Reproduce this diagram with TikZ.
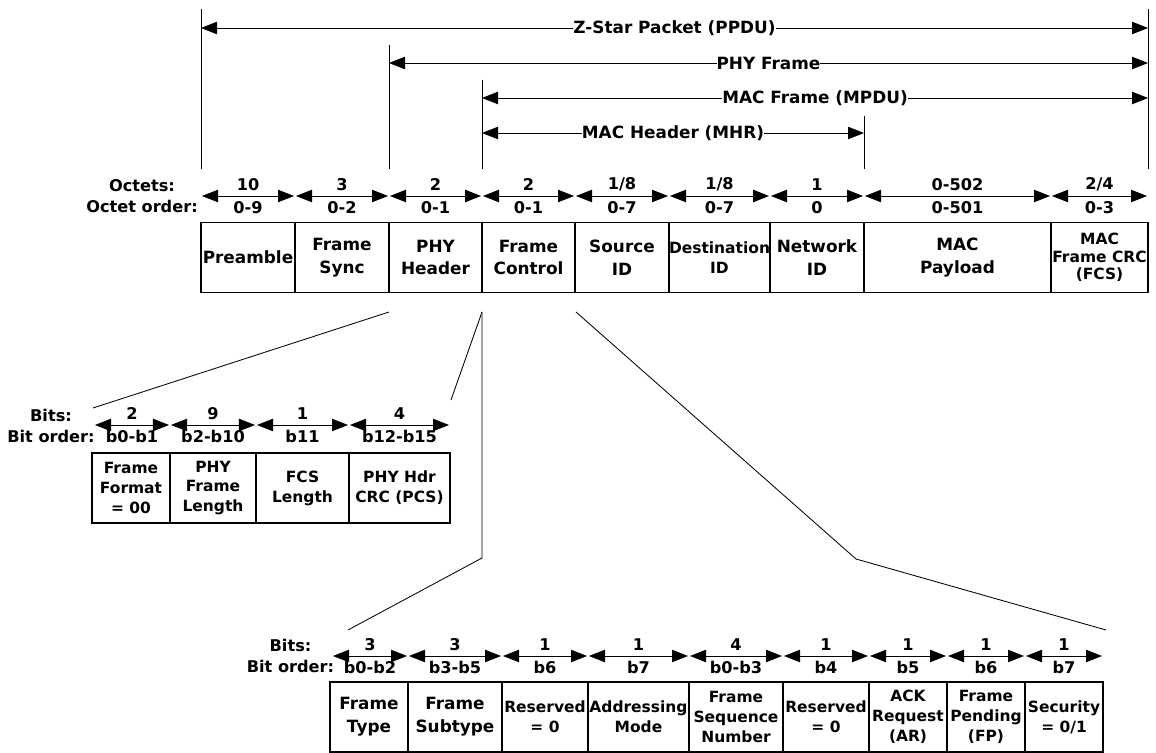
\documentclass[tikz,border=0pt]{standalone}
\usepackage{fontspec}
\setmainfont{DejaVu Sans}
\usepackage{tikz}
\usetikzlibrary{arrows.meta}

\tikzset{
  cell/.style={draw, line width=1pt, inner sep=0pt, outer sep=0pt, align=center,
    minimum height=1.75cm, font=\fontsize{12}{16.3}\selectfont\bfseries},
  smallcell/.style={cell, font=\fontsize{11}{14.2}\selectfont\bfseries},
  dimline/.style={line width=0.6pt,
    {Triangle[length=0.4cm,width=0.31cm]}-{Triangle[length=0.4cm,width=0.31cm]}},
  fieldarrow/.style={dimline, shorten <=0.25mm, shorten >=0.25mm},
  lbl/.style={fill=white, inner xsep=0pt, inner ysep=1pt, font=\fontsize{12}{14}\selectfont\bfseries},
  num/.style={font=\fontsize{11.5}{13}\selectfont\bfseries},
  rowlbl/.style={align=center, font=\fontsize{11.5}{15}\selectfont\bfseries},
  extline/.style={line width=0.5pt},
  zoomline/.style={line width=0.6pt}
}

\begin{document}
\begin{tikzpicture}[x=0.025cm, y=-0.025cm]
\useasboundingbox (0,0) rectangle (1156,753);

\coordinate (e1t) at (201,9);
\coordinate (e1b) at (201,169);
\coordinate (e2t) at (389,45);
\coordinate (e2b) at (389,169);
\coordinate (e3t) at (482,80);
\coordinate (e3b) at (482,169);
\coordinate (e4t) at (864,116);
\coordinate (e4b) at (864,169);
\coordinate (e5t) at (1148,9);
\coordinate (e5b) at (1148,169);
\draw[extline] (e1t) -- (e1b);
\draw[extline] (e2t) -- (e2b);
\draw[extline] (e3t) -- (e3b);
\draw[extline] (e4t) -- (e4b);
\draw[extline] (e5t) -- (e5b);

\coordinate (ppdus) at (201,28);
\coordinate (ppdue) at (1148,28);
\coordinate (phys) at (389,63);
\coordinate (phye) at (1148,63);
\coordinate (mpdus) at (482,98);
\coordinate (mpdue) at (1148,98);
\coordinate (mhrs) at (482,133);
\coordinate (mhre) at (864,133);
\draw[dimline] (ppdus) -- (ppdue) node[midway, lbl] {Z-Star Packet (PPDU)};
\draw[dimline] (phys) -- (phye) node[midway, lbl] {PHY Frame};
\draw[dimline] (mpdus) -- (mpdue) node[midway, lbl] {MAC Frame (MPDU)};
\draw[dimline] (mhrs) -- (mhre) node[midway, lbl] {MAC Header (MHR)};

\node[rowlbl] (octlbl) at (142,196) {Octets:\\Octet order:};
\coordinate (o0) at (201,196);
\coordinate (o1) at (295,196);
\coordinate (o2) at (389,196);
\coordinate (o3) at (482,196);
\coordinate (o4) at (575,196);
\coordinate (o5) at (669,196);
\coordinate (o6) at (770,196);
\coordinate (o7) at (864,196);
\coordinate (o8) at (1051,196);
\coordinate (o9) at (1148,196);
\draw[fieldarrow] (o0) -- (o1) node[midway, above, num] {10} node[midway, below, num] {0-9};
\draw[fieldarrow] (o1) -- (o2) node[midway, above, num] {3} node[midway, below, num] {0-2};
\draw[fieldarrow] (o2) -- (o3) node[midway, above, num] {2} node[midway, below, num] {0-1};
\draw[fieldarrow] (o3) -- (o4) node[midway, above, num] {2} node[midway, below, num] {0-1};
\draw[fieldarrow] (o4) -- (o5) node[midway, above, num] {1/8} node[midway, below, num] {0-7};
\draw[fieldarrow] (o5) -- (o6) node[midway, above, num] {1/8} node[midway, below, num] {0-7};
\draw[fieldarrow] (o6) -- (o7) node[midway, above, num] {1} node[midway, below, num] {0};
\draw[fieldarrow] (o7) -- (o8) node[midway, above, num] {0-502} node[midway, below, num] {0-501};
\draw[fieldarrow] (o8) -- (o9) node[midway, above, num] {2/4} node[midway, below, num] {0-3};

\node[cell, minimum width=2.35cm] (pre) at (248,257.5) {Preamble};
\node[cell, minimum width=2.35cm] (fsync) at (342,257.5) {Frame\\Sync};
\node[cell, minimum width=2.325cm] (phyhdr) at (435.5,257.5) {PHY\\Header};
\node[cell, minimum width=2.325cm] (fctrl) at (528.5,257.5) {Frame\\Control};
\node[cell, minimum width=2.35cm] (srcid) at (622,257.5) {Source\\ID};
\node[smallcell, minimum width=2.525cm] (dstid) at (719.5,257.5) {Destination\\ID};
\node[cell, minimum width=2.35cm] (netid) at (817,257.5) {Network\\ID};
\node[cell, minimum width=4.675cm] (payload) at (957.5,257.5) {MAC\\Payload};
\node[cell, minimum width=2.425cm, font=\fontsize{11}{12.5}\selectfont\bfseries] (fcs) at (1099.5,257.5) {MAC\\Frame CRC\\(FCS)};

\coordinate (z1a) at (389,312);
\coordinate (z1b) at (93,408);
\coordinate (z2a) at (482,312);
\coordinate (z2b) at (451,400);
\coordinate (z3k) at (482,558);
\coordinate (z3b) at (348,630);
\coordinate (z4a) at (576,312);
\coordinate (z4k) at (856,559);
\coordinate (z4b) at (1106,630);
\draw[zoomline] (z1a) -- (z1b);
\draw[zoomline] (z2a) -- (z2b);
\draw[zoomline] (z2a) -- (z3k) -- (z3b);
\draw[zoomline] (z4a) -- (z4k) -- (z4b);

\node[rowlbl] (phybitlbl) at (51,426) {Bits:\\Bit order:};
\coordinate (p0) at (94,425);
\coordinate (p1) at (170,425);
\coordinate (p2) at (256,425);
\coordinate (p3) at (349,425);
\coordinate (p4) at (450,425);
\draw[fieldarrow] (p0) -- (p1) node[midway, above, num] {2} node[midway, below, num] {b0-b1};
\draw[fieldarrow] (p1) -- (p2) node[midway, above, num] {9} node[midway, below, num] {b2-b10};
\draw[fieldarrow] (p2) -- (p3) node[midway, above, num] {1} node[midway, below, num] {b11};
\draw[fieldarrow] (p3) -- (p4) node[midway, above, num] {4} node[midway, below, num] {b12-b15};

\node[smallcell, minimum width=1.95cm] (ffmt) at (131,488) {Frame\\Format\\= 00};
\node[smallcell, minimum width=2.15cm] (pflen) at (213,488) {PHY\\Frame\\Length};
\node[smallcell, minimum width=2.325cm] (fcslen) at (302.5,488) {FCS\\Length};
\node[smallcell, minimum width=2.525cm] (phcrc) at (399.5,488) {PHY Hdr\\CRC (PCS)};

\node[rowlbl] (fcbitlbl) at (290.5,656) {Bits:\\Bit order:};
\coordinate (b0) at (332,656);
\coordinate (b1) at (408,656);
\coordinate (b2) at (502,656);
\coordinate (b3) at (588,656);
\coordinate (b4) at (689,656);
\coordinate (b5) at (783,656);
\coordinate (b6) at (869,656);
\coordinate (b7) at (947,656);
\coordinate (b8) at (1025,656);
\coordinate (b9) at (1103,656);
\draw[fieldarrow] (b0) -- (b1) node[midway, above, num] {3} node[midway, below, num] {b0-b2};
\draw[fieldarrow] (b1) -- (b2) node[midway, above, num] {3} node[midway, below, num] {b3-b5};
\draw[fieldarrow] (b2) -- (b3) node[midway, above, num] {1} node[midway, below, num] {b6};
\draw[fieldarrow] (b3) -- (b4) node[midway, above, num] {1} node[midway, below, num] {b7};
\draw[fieldarrow] (b4) -- (b5) node[midway, above, num] {4} node[midway, below, num] {b0-b3};
\draw[fieldarrow] (b5) -- (b6) node[midway, above, num] {1} node[midway, below, num] {b4};
\draw[fieldarrow] (b6) -- (b7) node[midway, above, num] {1} node[midway, below, num] {b5};
\draw[fieldarrow] (b7) -- (b8) node[midway, above, num] {1} node[midway, below, num] {b6};
\draw[fieldarrow] (b8) -- (b9) node[midway, above, num] {1} node[midway, below, num] {b7};

\node[cell, minimum width=1.95cm] (ftype) at (369,717) {Frame\\Type};
\node[cell, minimum width=2.35cm] (fsub) at (455,717) {Frame\\Subtype};
\node[smallcell, minimum width=2.15cm] (resa) at (545,717) {Reserved\\= 0};
\node[smallcell, minimum width=2.525cm] (addr) at (638.5,717) {Addressing\\Mode};
\node[smallcell, minimum width=2.35cm] (fseq) at (736,717) {Frame\\Sequence\\Number};
\node[smallcell, minimum width=2.15cm] (resb) at (826,717) {Reserved\\= 0};
\node[smallcell, minimum width=1.95cm] (ackreq) at (908,717) {ACK\\Request\\(AR)};
\node[smallcell, minimum width=1.95cm] (fpend) at (986,717) {Frame\\Pending\\(FP)};
\node[smallcell, minimum width=1.95cm] (secur) at (1064,717) {Security\\= 0/1};
\end{tikzpicture}
\end{document}
